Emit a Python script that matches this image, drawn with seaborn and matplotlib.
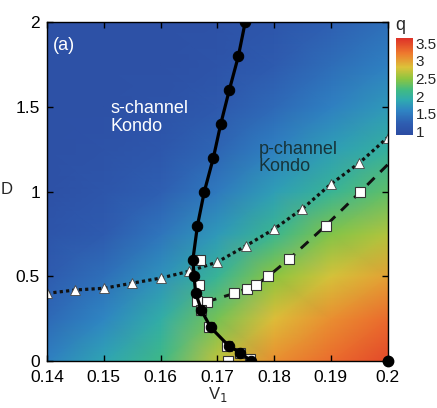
import numpy as np
import pandas as pd
import matplotlib
matplotlib.use("Agg")
import matplotlib.pyplot as plt
from matplotlib.colors import LinearSegmentedColormap, Normalize
import seaborn as sns

# Background map of q on a coarse (V1, D) grid
grid_v1 = [0.14, 0.15, 0.16, 0.17, 0.18, 0.19, 0.20]
grid_d = [0.0, 0.25, 0.5, 0.75, 1.0, 1.25, 1.5, 1.75, 2.0]
q_rows = [
    [1.55, 1.85, 2.15, 2.70, 3.10, 3.30, 3.50],
    [1.35, 1.60, 1.95, 2.40, 2.85, 3.10, 3.30],
    [1.20, 1.40, 1.70, 2.05, 2.50, 2.80, 3.00],
    [1.08, 1.20, 1.45, 1.75, 2.10, 2.45, 2.65],
    [1.00, 1.10, 1.25, 1.50, 1.80, 2.05, 2.30],
    [1.00, 1.03, 1.12, 1.30, 1.55, 1.80, 2.00],
    [1.00, 1.00, 1.05, 1.15, 1.35, 1.55, 1.75],
    [1.00, 1.00, 1.00, 1.07, 1.20, 1.38, 1.55],
    [1.00, 1.00, 1.00, 1.02, 1.10, 1.25, 1.40],
]

# Boundary of the s-channel Kondo phase (filled circles)
circle_v1 = [0.1760, 0.1740, 0.1720, 0.1688, 0.1672, 0.1662, 0.1659, 0.1657,
             0.1665, 0.1677, 0.1693, 0.1706, 0.1721, 0.1737, 0.1749]
circle_d = [0.0, 0.05, 0.09, 0.2, 0.3, 0.4, 0.5, 0.6,
            0.8, 1.0, 1.2, 1.4, 1.6, 1.8, 2.0]
corner_v1 = [0.2]
corner_d = [0.0]

# Dotted boundary (open triangles)
tri_v1 = [0.140, 0.145, 0.150, 0.155, 0.160, 0.165, 0.170,
          0.175, 0.180, 0.185, 0.190, 0.195, 0.200]
tri_d = [0.40, 0.42, 0.43, 0.46, 0.49, 0.53, 0.585,
         0.68, 0.78, 0.90, 1.045, 1.17, 1.32]

# Dashed boundary (open squares); the line runs on to the right edge
dash_v1 = [0.1681, 0.1730, 0.1752, 0.1768, 0.1790, 0.1827, 0.1891, 0.1952, 0.2000]
dash_d = [0.35, 0.40, 0.428, 0.449, 0.502, 0.604, 0.80, 1.00, 1.16]

# Open squares along the lower part of the s-channel boundary
sq_v1 = [0.1669, 0.1667, 0.1665, 0.1672, 0.1686, 0.1717, 0.1740, 0.1758, 0.1719]
sq_d = [0.60, 0.45, 0.355, 0.30, 0.20, 0.09, 0.045, 0.015, 0.0]

x_ticks = [0.14, 0.15, 0.16, 0.17, 0.18, 0.19, 0.2]
x_labels = ["0.14", "0.15", "0.16", "0.17", "0.18", "0.19", "0.2"]
y_ticks = [0, 0.5, 1, 1.5, 2]
y_labels = ["0", "0.5", "1", "1.5", "2"]
cb_ticks = [1, 1.5, 2, 2.5, 3, 3.5]
cb_labels = ["1", "1.5", "2", "2.5", "3", "3.5"]

sns.set_style("ticks")
plt.rcParams["font.family"] = ["Liberation Sans", "DejaVu Sans"]
plt.rcParams["axes.linewidth"] = 1.0

fig = plt.figure(figsize=(4.37, 4.08), dpi=100)
ax = fig.add_axes([0.1076, 0.1150, 0.7794, 0.8299])

cmap = LinearSegmentedColormap.from_list(
    "q_map",
    [(0.00, "#2c4ca2"), (0.12, "#2e5db1"), (0.25, "#2f84c3"),
     (0.36, "#2faab0"), (0.46, "#3fba85"), (0.58, "#8cc540"),
     (0.70, "#dcc23a"), (0.84, "#ee7b2e"), (1.00, "#de3128")])
norm = Normalize(vmin=0.9, vmax=3.65)

mesh = ax.pcolormesh(np.array(grid_v1), np.array(grid_d), np.array(q_rows),
                     shading="gouraud", cmap=cmap, norm=norm,
                     rasterized=True, zorder=0)

circ = pd.DataFrame({"V1": circle_v1, "D": circle_d})
tri = pd.DataFrame({"V1": tri_v1, "D": tri_d})
dsh = pd.DataFrame({"V1": dash_v1, "D": dash_d})

sns.lineplot(data=tri, x="V1", y="D", sort=False, estimator=None, ax=ax,
             color="#111111", lw=2.3, linestyle=(0, (1, 1)),
             marker="^", markersize=6.5, markerfacecolor="white",
             markeredgecolor="#444444", markeredgewidth=0.6, zorder=3)
sns.lineplot(data=dsh, x="V1", y="D", sort=False, estimator=None, ax=ax,
             color="#111111", lw=2.1, linestyle=(0, (3.5, 2.8)),
             marker="s", markersize=7.5, markerfacecolor="white",
             markeredgecolor="#333333", markeredgewidth=0.8,
             markevery=slice(0, len(dash_v1) - 1), zorder=3)
ax.plot(sq_v1, sq_d, ls="none", marker="s", ms=7.5, mfc="white",
        mec="#333333", mew=0.8, zorder=4)
sns.lineplot(data=circ, x="V1", y="D", sort=False, estimator=None, ax=ax,
             color="black", lw=2.3, marker="o", markersize=7.5,
             markerfacecolor="black", markeredgecolor="black", zorder=5)
ax.plot(corner_v1, corner_d, ls="none", marker="o", ms=7.5, color="black",
        clip_on=False, zorder=6)

ax.set_xlim(0.14, 0.2)
ax.set_ylim(0, 2)
ax.set_xticks(x_ticks)
ax.set_xticklabels(x_labels)
ax.set_yticks(y_ticks)
ax.set_yticklabels(y_labels)
ax.tick_params(direction="in", length=4, width=1, top=True, right=True,
               labelsize=12.5, colors="black")
ax.tick_params(axis="x", pad=6.5)
ax.tick_params(axis="y", pad=5)
ax.set_xlabel("V$_1$", fontsize=12, labelpad=0)
ax.set_ylabel("")
for s in ax.spines.values():
    s.set_visible(True)
    s.set_color("black")
    s.set_zorder(7)

ax.text(0.1411, 1.865, "(a)", color="white", fontsize=13, va="center")
ax.text(0.1511, 1.44, "s-channel\nKondo", color="white", fontsize=13,
        va="center", linespacing=1.05)
ax.text(0.1773, 1.20, "p-channel\nKondo", color="#17343a", fontsize=13,
        va="center", linespacing=1.05)

# Axis label for D, set close to the left edge
fig.text(1 / 437, 1 - 190 / 408, "D", fontsize=12, ha="left", va="center")

cax = fig.add_axes([0.906, 0.669, 0.0389, 0.2377])
cb = fig.colorbar(mesh, cax=cax)
cb.outline.set_visible(False)
cb.set_ticks(cb_ticks)
cb.set_ticklabels(cb_labels)
cax.tick_params(length=0, labelsize=11, pad=2)
fig.text(0.916, 1 - 26 / 408, "q", fontsize=13, ha="center", va="center")

fig.savefig("out.png", dpi=100)
